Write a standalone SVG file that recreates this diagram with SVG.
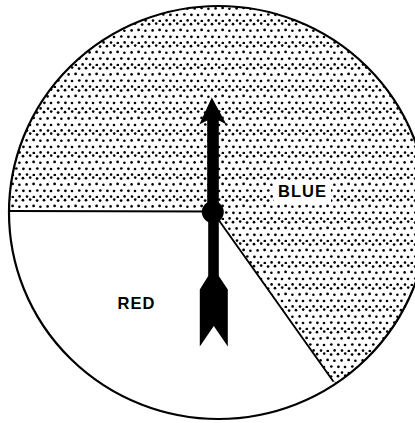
<svg xmlns="http://www.w3.org/2000/svg" width="415" height="423" viewBox="0 0 415 423">
  <defs>
    <style>
      .outline { fill: none; stroke: #000; stroke-width: 2.2; }
      .divider { fill: none; stroke: #000; stroke-width: 1.9; stroke-linecap: round; }
      .needle { fill: #000; stroke: none; }
      .label { font-family: "Liberation Sans", Arial, sans-serif; font-weight: bold; font-size: 16.5px; letter-spacing: 1px; fill: #000; }
    </style>
    <pattern id="stipple" patternUnits="userSpaceOnUse" width="21" height="22">
      <rect width="21" height="22" fill="#fff"/>
      <g fill="#000">
        <circle cx="2" cy="2.2" r="1.35"/>
        <circle cx="9.2" cy="1.6" r="1.3"/>
        <circle cx="16.1" cy="2.6" r="1.4"/>
        <circle cx="5.6" cy="8.4" r="1.3"/>
        <circle cx="12.6" cy="7.9" r="1.4"/>
        <circle cx="19.4" cy="8.8" r="1.3"/>
        <circle cx="2.4" cy="14.8" r="1.4"/>
        <circle cx="9" cy="15" r="1.3"/>
        <circle cx="16.3" cy="14.5" r="1.35"/>
        <circle cx="6" cy="20.6" r="1.3"/>
        <circle cx="12.8" cy="21" r="1.35"/>
        <circle cx="19.6" cy="20.4" r="1.3"/>
      </g>
    </pattern>
    <clipPath id="diskClip">
      <ellipse cx="218.5" cy="212.5" rx="209.5" ry="206.5"/>
    </clipPath>
  </defs>

  <rect width="415" height="423" fill="#fff"/>

  <g id="blue-sector" clip-path="url(#diskClip)">
    <polygon points="213,212 -10,211 -10,-10 440,-10 440,440 376,440" fill="url(#stipple)"/>
  </g>

  <g id="red-sector">
    <!-- white (unshaded) sector is the background -->
  </g>

  <g id="dividers">
    <line class="divider" x1="9.5" y1="211" x2="213" y2="211.5"/>
    <line class="divider" x1="213" y1="212" x2="333" y2="381"/>
  </g>

  <g id="disk">
    <ellipse class="outline" cx="218.5" cy="212.5" rx="209.5" ry="206.5"/>
  </g>

  <g id="label-blue">
    <rect x="274" y="181" width="57" height="21" fill="#fff"/>
    <text class="label" x="278" y="197">BLUE</text>
  </g>

  <g id="label-red">
    <text class="label" x="117.5" y="309">RED</text>
  </g>

  <g id="spinner">
    <polygon class="needle" points="211.8,97.5 226.5,124.5 218.8,120.5 218.8,212 207.2,212 207.2,120.5 199.3,124.5"/>
    <circle class="needle" cx="212.8" cy="212" r="11"/>
    <polygon class="needle" points="208.2,212 208.2,276 199.8,289.5 199.8,346.5 213.8,326 227.8,346.5 227.8,289.5 218.8,276 218.8,212"/>
  </g>
</svg>
